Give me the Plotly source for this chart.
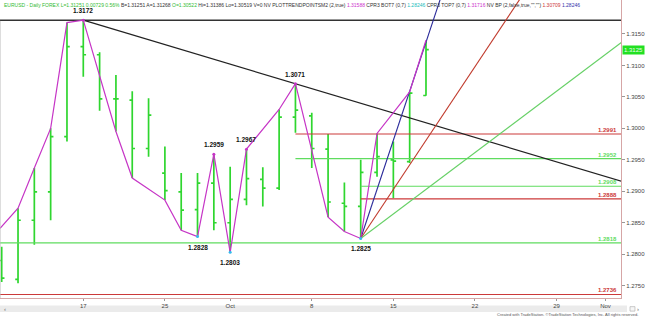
import plotly.graph_objects as go
import numpy as np

# ---------------- data ----------------
bar_idx = list(range(27))
opens  = [1.2790, 1.2760, 1.2854, 1.2899, 1.2987, 1.3130, 1.3117, 1.3047, 1.3045, 1.2968,
          1.2929, 1.2899, 1.2871, 1.2913, 1.2850, 1.2887, 1.2919, 1.2905, 1.3018, 1.3020,
          1.2967, 1.2881, 1.2876, 1.2930, 1.2950, 1.2947, 1.30522]
highs  = [1.2812, 1.2873, 1.2937, 1.3000, 1.3168, 1.3172, 1.3121, 1.3085, 1.3059, 1.3048,
          1.2971, 1.2929, 1.2929, 1.2959, 1.2939, 1.2967, 1.2938, 1.3030, 1.3071, 1.3025,
          1.2991, 1.2914, 1.2950, 1.2992, 1.2979, 1.3058, 1.31386]
lows   = [1.2756, 1.2754, 1.2815, 1.2854, 1.2979, 1.3082, 1.3028, 1.2995, 1.2921, 1.2955,
          1.2886, 1.2838, 1.2828, 1.2838, 1.2803, 1.2878, 1.2876, 1.2902, 1.2993, 1.2937,
          1.2859, 1.2836, 1.2825, 1.2923, 1.2889, 1.2945, 1.30519]
closes = [1.2762, 1.2854, 1.2899, 1.2987, 1.3130, 1.3117, 1.3047, 1.3047, 1.2968, 1.3021,
          1.2901, 1.2870, 1.2913, 1.2850, 1.2887, 1.2920, 1.2905, 1.3018, 1.3029, 1.2968,
          1.2883, 1.2876, 1.2930, 1.2955, 1.2948, 1.3056, 1.31251]

x_tick_idx = [5, 10, 14, 19, 24, 29, 34, 37]
x_tick_txt = ["17", "25", "Oct", "8", "15", "22", "29", "Nov"]
y_ticks = [1.2750, 1.2800, 1.2850, 1.2900, 1.2950, 1.3000, 1.3050, 1.3100, 1.3150]

# swing (trend point) zig-zag
zz_idx = [-0.1, 1, 2, 3, 4, 5, 7, 8, 10, 11, 12, 13, 14, 15, 17, 18, 20, 21, 22, 23, 25, 26]
zz_val = [1.2841, 1.2873, 1.2937, 1.3000, 1.3168, 1.3172, 1.2995, 1.2921, 1.2886, 1.2838,
          1.2828, 1.2959, 1.2803, 1.2967, 1.3030, 1.3071, 1.2859, 1.2836, 1.2825, 1.2992,
          1.3058, 1.3140]

swing_idx = [5, 12, 13, 14, 15, 18, 22]
swing_val = [1.3172, 1.2828, 1.2959, 1.2803, 1.2967, 1.3071, 1.2825]
swing_side = ["above", "below", "above", "below", "above", "above", "below"]

# down trendline through two highs
trend_idx = [5, 18]
trend_val = [1.3172, 1.3071]

# fan from swing low
fan_anchor_idx = 22
fan_anchor_val = 1.2825
fan_rates = [0.0078, 0.0039, 0.00195]

# horizontal levels
level_val   = [1.3172, 1.2991, 1.2952, 1.2908, 1.2888, 1.2818, 1.2736]
level_start = [-1, 18, 18, 22, 22, -1, -1]
level_kind  = ["top", "red", "green", "green", "red", "green", "red"]
level_label = [False, True, True, True, True, True, True]

last_price = 1.3125

# ---------------- style ----------------
BAR_G = "#2fd62f"
LVL = {"red": "#cc3a3a", "green": "#5fdc5f", "top": "#333333"}
FAN_C = ["#2a2a9a", "#c0392b", "#66d066"]
MAG = "#c635c6"
X_END = 45
XR = [-0.104, 37.95]
YR = [1.27304, 1.32040]
AX = "#d6a6a6"
FONT = "Liberation Sans, Arial, sans-serif"

fig = go.Figure()

# levels
for v, s, k in zip(level_val, level_start, level_kind):
    fig.add_trace(go.Scatter(x=[s, X_END], y=[v, v], mode="lines",
                             line=dict(color=LVL[k], width=1.5 if k == "top" else 1.2),
                             hoverinfo="skip", showlegend=False))

# trendline
slope = (trend_val[1] - trend_val[0]) / (trend_idx[1] - trend_idx[0])
tx = np.array([trend_idx[0], X_END])
fig.add_trace(go.Scatter(x=tx, y=trend_val[0] + slope * (tx - trend_idx[0]), mode="lines",
                         line=dict(color="#222222", width=1.2), hoverinfo="skip", showlegend=False))

# fan lines
for r, c in zip(fan_rates, FAN_C):
    fx = np.array([fan_anchor_idx, X_END])
    fig.add_trace(go.Scatter(x=fx, y=fan_anchor_val + r * (fx - fan_anchor_idx), mode="lines",
                             line=dict(color=c, width=1.1), hoverinfo="skip", showlegend=False))

# OHLC bars
fig.add_trace(go.Ohlc(x=bar_idx, open=opens, high=highs, low=lows, close=closes,
                      increasing=dict(line=dict(color=BAR_G, width=1.7)),
                      decreasing=dict(line=dict(color=BAR_G, width=1.7)),
                      tickwidth=0.17, hoverinfo="skip", showlegend=False))

# zig-zag
fig.add_trace(go.Scatter(x=zz_idx, y=zz_val, mode="lines", line=dict(color=MAG, width=1.2),
                         hoverinfo="skip", showlegend=False))
fig.add_trace(go.Scatter(x=swing_idx, y=swing_val, mode="markers",
                         marker=dict(size=3, color=[MAG if s == "above" else "#33bbee" for s in swing_side]),
                         hoverinfo="skip", showlegend=False))

ann = []
for i, v, s in zip(swing_idx, swing_val, swing_side):
    ann.append(dict(x=i, y=v, xref="x", yref="y", text="<b>%.4f</b>" % v, showarrow=False,
                    yanchor="bottom" if s == "above" else "top",
                    yshift=4 if s == "above" else -5,
                    font=dict(size=6.5, color="#111", family=FONT)))

for v, k, lab in zip(level_val, level_label and level_kind, level_label):
    if lab:
        ann.append(dict(x=0.997, y=v, xref="paper", yref="y", text="<b>%.4f</b>" % v,
                        showarrow=False, xanchor="right", yanchor="bottom", yshift=-1,
                        font=dict(size=6, color=LVL[k], family=FONT)))

ann.append(dict(x=1.0, y=last_price, xref="paper", yref="y", text="%.4f" % last_price,
                showarrow=False, xanchor="left", yanchor="middle", xshift=1,
                bgcolor="#22e022", borderpad=1, font=dict(size=6, color="#e8ffe8", family=FONT)))

def sp(t, c):
    return '<span style="color:%s">%s</span>' % (c, t)

header = (sp("EURUSD - Daily FOREX L=1.31251 0.00729 0.56%", "#33bb33") + " " +
          sp("B=1.31251 A=1.31268", "#333") + " " + sp("O=1.30522", "#33bb33") + " " +
          sp("Hi=1.31386 Lo=1.30519 V=0 NV PLOTTRENDPOINTSM2 (2,true)", "#333") + " " +
          sp("1.31588", "#cc33cc") + " " + sp("CPR3 BOT7 (0,7)", "#333") + " " +
          sp("1.28246", "#22bbbb") + " " + sp("CPR3 TOP7 (0,7)", "#333") + " " +
          sp("1.31716", "#cc33cc") + " " + sp('NV BP (2,false,true,"","")', "#333") + " " +
          sp("1.30709", "#cc3333") + " " + sp("1.28246", "#3333aa"))
ann.append(dict(x=0.003, y=1.0, xref="paper", yref="paper", text=header, showarrow=False,
                xanchor="left", yanchor="top", yshift=0, font=dict(size=5, family=FONT)))

ann.append(dict(x=1.031, y=-0.054, xref="paper", yref="paper",
                text="Created with TradeStation. \u00a9TradeStation Technologies, Inc. All rights reserved.",
                showarrow=False, xanchor="right", yanchor="middle",
                font=dict(size=4, color="#555", family=FONT)))
ann.append(dict(x=0.004, y=-0.036, xref="paper", yref="paper", text="\u2039", showarrow=False,
                xanchor="left", yanchor="middle", font=dict(size=6, color="#666")))
ann.append(dict(x=1.033, y=-0.036, xref="paper", yref="paper", text="\u203a", showarrow=False,
                xanchor="right", yanchor="middle", font=dict(size=6, color="#666")))

shapes = [
    dict(type="rect", xref="paper", yref="paper", x0=0, x1=1.0096, y0=-0.047, y1=-0.0255,
         fillcolor="#ebebeb", line=dict(width=0), layer="below"),
    dict(type="rect", xref="paper", yref="paper", x0=1.0145, x1=1.0225, y0=-0.044, y1=-0.029,
         fillcolor="#f6f6f6", line=dict(width=0.6, color="#aaa")),
    dict(type="line", xref="paper", yref="paper", x0=0, x1=0, y0=0, y1=0.93,
         line=dict(width=1, color="#bbbbbb")),
]

fig.update_layout(
    width=645, height=317, margin=dict(l=0, r=21, t=0, b=19),
    paper_bgcolor="white", plot_bgcolor="white", showlegend=False,
    annotations=ann, shapes=shapes, font=dict(family=FONT),
    xaxis=dict(range=XR, tickvals=x_tick_idx, ticktext=x_tick_txt, showgrid=False, zeroline=False,
               showline=True, linecolor=AX, linewidth=1, ticks="outside", ticklen=2, tickcolor="#999",
               tickfont=dict(size=6, color="#444"), rangeslider=dict(visible=False), fixedrange=True),
    yaxis=dict(range=YR, side="right", tickvals=y_ticks, tickformat=".4f", showgrid=False,
               zeroline=False, showline=True, linecolor=AX, linewidth=1, ticks="outside",
               ticklen=3, tickcolor="#999", tickfont=dict(size=6, color="#444"), fixedrange=True),
)

fig.write_html("out.html")
